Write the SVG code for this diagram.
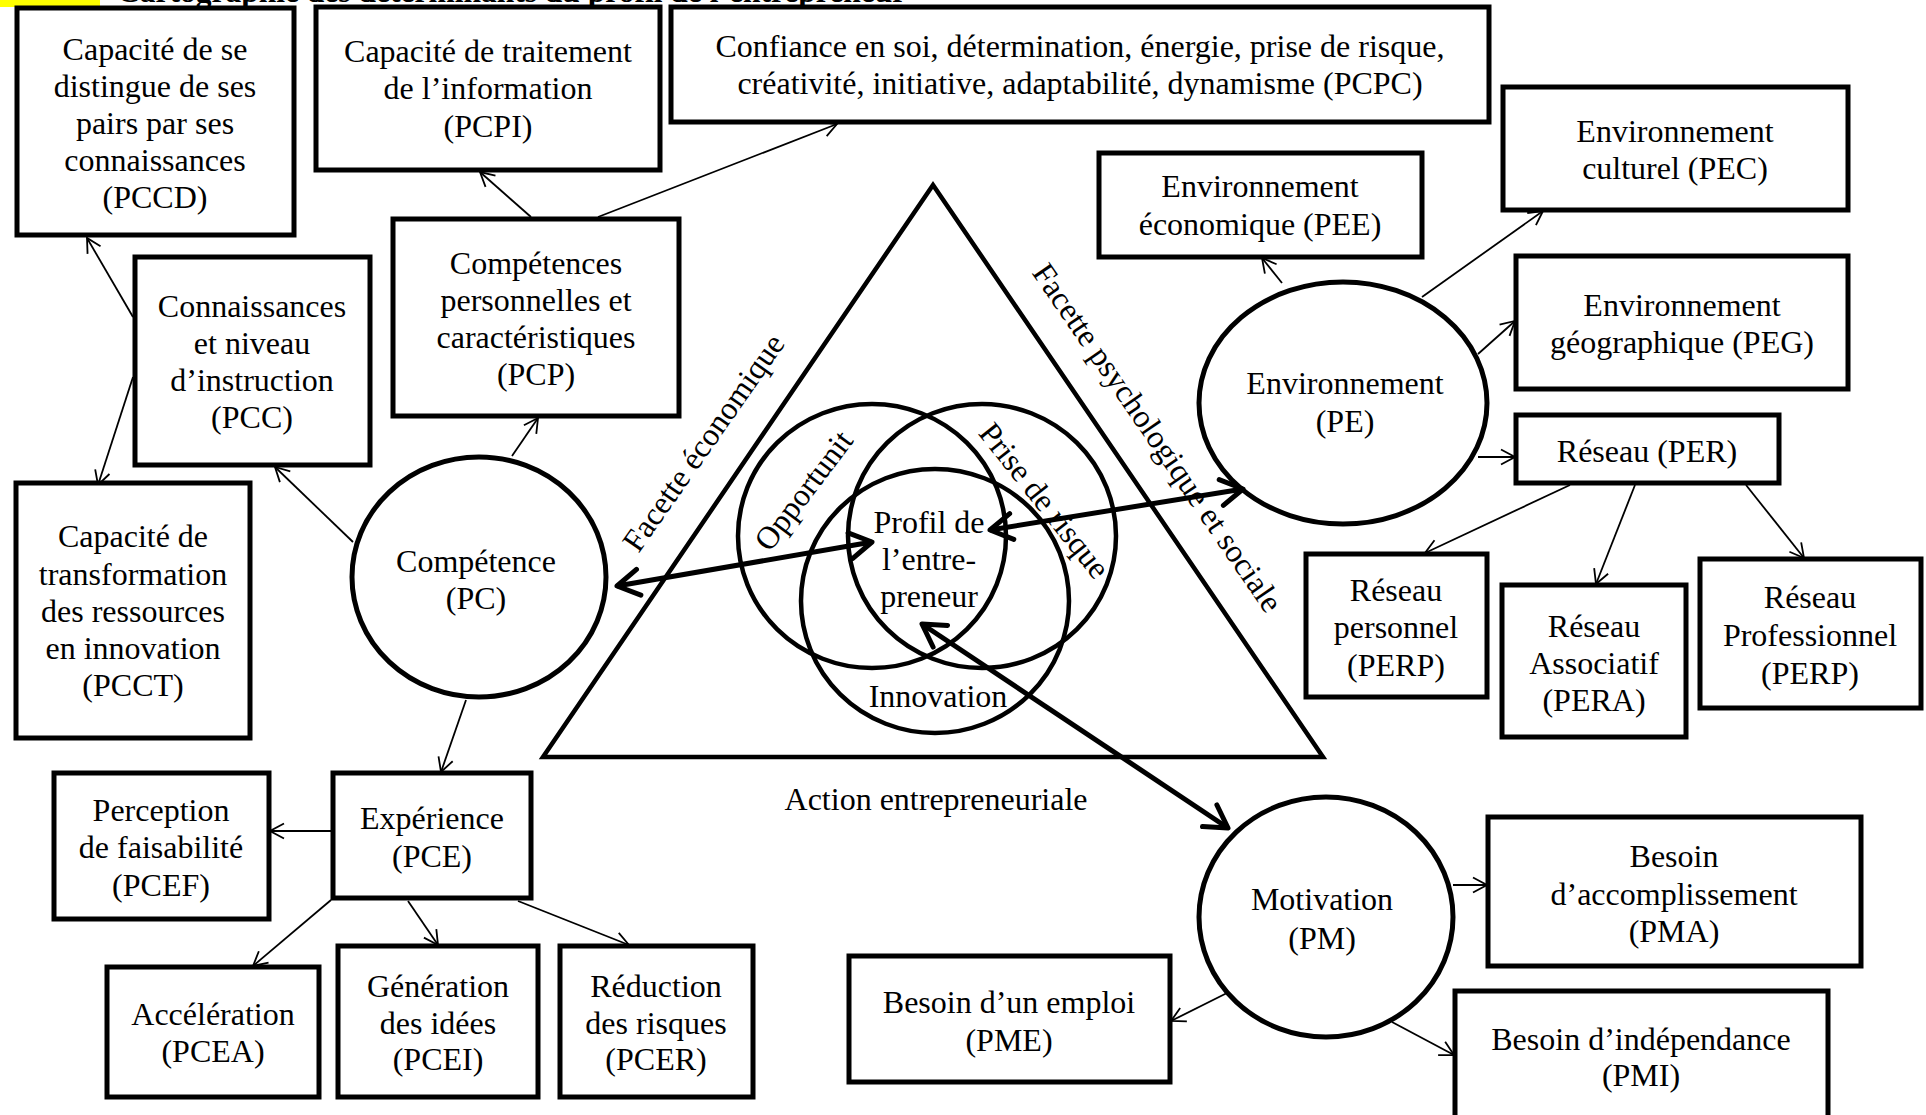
<svg xmlns="http://www.w3.org/2000/svg" width="1926" height="1115" viewBox="0 0 1926 1115">
<defs>
<style>
.bx{fill:#fff;stroke:#000;stroke-width:5}
.el{fill:none;stroke:#000;stroke-width:5}
.ci{fill:none;stroke:#000;stroke-width:4.5}
.t{font-family:"Liberation Serif","Times New Roman",serif;font-size:32px;fill:#000;text-anchor:middle}
.c{stroke:#000;stroke-width:1.8;fill:none}
.k{stroke:#000;stroke-width:5;fill:none}
</style>
<marker id="a" viewBox="0 0 16 18" refX="15" refY="9" markerWidth="16" markerHeight="18" markerUnits="userSpaceOnUse" orient="auto"><path d="M1,1.5 L15,9 L1,16.5" fill="none" stroke="#000" stroke-width="1.8"/></marker>
<marker id="b" viewBox="0 0 28 32" refX="25" refY="16" markerWidth="28" markerHeight="32" markerUnits="userSpaceOnUse" orient="auto-start-reverse"><path d="M3,3 L25,16 L3,29" fill="none" stroke="#000" stroke-width="5" stroke-linecap="round" stroke-linejoin="round"/></marker>
</defs>
<rect width="1926" height="1115" fill="#fff"/>
<g id="header">
<rect x="0" y="0" width="100" height="7" fill="#ffff00"/>
<text x="117" y="2" style="font-family:'Liberation Serif','Times New Roman',serif;font-size:31.5px;font-weight:bold">Cartographie des déterminants du profil de l’entrepreneur</text>
</g>
<g id="connectors">
<line class="c" x1="133" y1="317" x2="87" y2="238" marker-end="url(#a)"/>
<line class="c" x1="133" y1="377" x2="98" y2="485" marker-end="url(#a)"/>
<line class="c" x1="353" y1="542" x2="275" y2="467" marker-end="url(#a)"/>
<line class="c" x1="512" y1="456" x2="538" y2="418" marker-end="url(#a)"/>
<line class="c" x1="531" y1="217" x2="480" y2="172" marker-end="url(#a)"/>
<line class="c" x1="598" y1="217" x2="837" y2="124" marker-end="url(#a)"/>
<line class="c" x1="466" y1="700" x2="441" y2="772" marker-end="url(#a)"/>
<line class="c" x1="332" y1="831" x2="270" y2="831" marker-end="url(#a)"/>
<line class="c" x1="331" y1="900" x2="253" y2="966" marker-end="url(#a)"/>
<line class="c" x1="408" y1="901" x2="438" y2="945" marker-end="url(#a)"/>
<line class="c" x1="518" y1="901" x2="629" y2="945" marker-end="url(#a)"/>
<line class="c" x1="1282" y1="283" x2="1262" y2="258" marker-end="url(#a)"/>
<line class="c" x1="1422" y1="297" x2="1543" y2="211" marker-end="url(#a)"/>
<line class="c" x1="1478" y1="354" x2="1515" y2="321" marker-end="url(#a)"/>
<line class="c" x1="1478" y1="457" x2="1515" y2="457" marker-end="url(#a)"/>
<line class="c" x1="1570" y1="485" x2="1425" y2="553" marker-end="url(#a)"/>
<line class="c" x1="1635" y1="485" x2="1596" y2="584" marker-end="url(#a)"/>
<line class="c" x1="1746" y1="485" x2="1804" y2="558" marker-end="url(#a)"/>
<line class="c" x1="1453" y1="885" x2="1487" y2="885" marker-end="url(#a)"/>
<line class="c" x1="1229" y1="992" x2="1171" y2="1021" marker-end="url(#a)"/>
<line class="c" x1="1392" y1="1022" x2="1454" y2="1055" marker-end="url(#a)"/>
</g>
<g id="triangle">
<polygon points="933,185 543,757 1323,757" fill="none" stroke="#000" stroke-width="4.5" stroke-linejoin="miter"/>
<text class="t" transform="translate(936,810)">Action entrepreneuriale</text>
<text class="t" transform="translate(704,443) rotate(-55)" y="10">Facette économique</text>
<text class="t" transform="translate(1157,438) rotate(55.5)" y="10">Facette psychologique et sociale</text>
</g>
<g id="profil">
<ellipse class="ci" cx="872" cy="536" rx="134" ry="132"/>
<ellipse class="ci" cx="982" cy="536" rx="134" ry="132"/>
<ellipse class="ci" cx="935" cy="601" rx="134" ry="132"/>
<text class="t" transform="translate(804,491) rotate(-53)" y="10">Opportunit</text>
<text class="t" transform="translate(1044,501) rotate(51.5)" y="10">Prise de risque</text>
<text class="t" x="938" y="707">Innovation</text>
<text class="t" x="929" y="533">Profil de</text>
<text class="t" x="929" y="570">l’entre-</text>
<text class="t" x="929" y="607">preneur</text>
</g>
<g id="thick-connectors">
<line class="k" x1="617" y1="586" x2="872" y2="542" marker-start="url(#b)" marker-end="url(#b)"/>
<line class="k" x1="990" y1="530" x2="1243" y2="489" marker-start="url(#b)" marker-end="url(#b)"/>
<line class="k" x1="922" y1="624" x2="1228" y2="828" marker-start="url(#b)" marker-end="url(#b)"/>
</g>
<g id="PCCD"><rect class="bx" x="17" y="8" width="277" height="227"/>
<text class="t" x="155" y="60">Capacité de se</text><text class="t" x="155" y="97">distingue de ses</text><text class="t" x="155" y="134">pairs par ses</text><text class="t" x="155" y="171">connaissances</text><text class="t" x="155" y="208">(PCCD)</text></g>
<g id="PCPI"><rect class="bx" x="316" y="7" width="344" height="163"/>
<text class="t" x="488" y="62">Capacité de traitement</text><text class="t" x="488" y="99">de l’information</text><text class="t" x="488" y="137">(PCPI)</text></g>
<g id="PCPC"><rect class="bx" x="671" y="7" width="818" height="115"/>
<text class="t" x="1080" y="57">Confiance en soi, détermination, énergie, prise de risque,</text><text class="t" x="1080" y="94">créativité, initiative, adaptabilité, dynamisme (PCPC)</text></g>
<g id="PCC"><rect class="bx" x="135" y="257" width="235" height="208"/>
<text class="t" x="252" y="317">Connaissances</text><text class="t" x="252" y="354">et niveau</text><text class="t" x="252" y="391">d’instruction</text><text class="t" x="252" y="428">(PCC)</text></g>
<g id="PCP"><rect class="bx" x="393" y="219" width="286" height="197"/>
<text class="t" x="536" y="274">Compétences</text><text class="t" x="536" y="311">personnelles et</text><text class="t" x="536" y="348">caractéristiques</text><text class="t" x="536" y="385">(PCP)</text></g>
<g id="PCCT"><rect class="bx" x="16" y="483" width="234" height="255"/>
<text class="t" x="133" y="547">Capacité de</text><text class="t" x="133" y="585">transformation</text><text class="t" x="133" y="622">des ressources</text><text class="t" x="133" y="659">en innovation</text><text class="t" x="133" y="696">(PCCT)</text></g>
<g id="PC"><ellipse class="el" cx="479" cy="577" rx="127" ry="120"/>
<text class="t" x="476" y="572">Compétence</text><text class="t" x="476" y="609">(PC)</text></g>
<g id="PCE"><rect class="bx" x="333" y="773" width="198" height="125"/>
<text class="t" x="432" y="829">Expérience</text><text class="t" x="432" y="867">(PCE)</text></g>
<g id="PCEF"><rect class="bx" x="54" y="773" width="215" height="146"/>
<text class="t" x="161" y="821">Perception</text><text class="t" x="161" y="858">de faisabilité</text><text class="t" x="161" y="896">(PCEF)</text></g>
<g id="PCEA"><rect class="bx" x="107" y="967" width="212" height="130"/>
<text class="t" x="213" y="1025">Accélération</text><text class="t" x="213" y="1062">(PCEA)</text></g>
<g id="PCEI"><rect class="bx" x="338" y="946" width="200" height="151"/>
<text class="t" x="438" y="997">Génération</text><text class="t" x="438" y="1034">des idées</text><text class="t" x="438" y="1070">(PCEI)</text></g>
<g id="PCER"><rect class="bx" x="560" y="946" width="193" height="151"/>
<text class="t" x="656" y="997">Réduction</text><text class="t" x="656" y="1034">des risques</text><text class="t" x="656" y="1070">(PCER)</text></g>
<g id="PE"><ellipse class="el" cx="1343" cy="403" rx="144" ry="121"/>
<text class="t" x="1345" y="394">Environnement</text><text class="t" x="1345" y="432">(PE)</text></g>
<g id="PEE"><rect class="bx" x="1099" y="153" width="323" height="104"/>
<text class="t" x="1260" y="197">Environnement</text><text class="t" x="1260" y="235">économique (PEE)</text></g>
<g id="PEC"><rect class="bx" x="1503" y="87" width="345" height="123"/>
<text class="t" x="1675" y="142">Environnement</text><text class="t" x="1675" y="179">culturel (PEC)</text></g>
<g id="PEG"><rect class="bx" x="1516" y="256" width="332" height="133"/>
<text class="t" x="1682" y="316">Environnement</text><text class="t" x="1682" y="353">géographique (PEG)</text></g>
<g id="PER"><rect class="bx" x="1516" y="415" width="263" height="68"/>
<text class="t" x="1647" y="462">Réseau (PER)</text></g>
<g id="PERP1"><rect class="bx" x="1306" y="554" width="181" height="143"/>
<text class="t" x="1396" y="601">Réseau</text><text class="t" x="1396" y="638">personnel</text><text class="t" x="1396" y="676">(PERP)</text></g>
<g id="PERA"><rect class="bx" x="1502" y="585" width="184" height="152"/>
<text class="t" x="1594" y="637">Réseau</text><text class="t" x="1594" y="674">Associatif</text><text class="t" x="1594" y="711">(PERA)</text></g>
<g id="PERP2"><rect class="bx" x="1700" y="559" width="221" height="149"/>
<text class="t" x="1810" y="608">Réseau</text><text class="t" x="1810" y="646">Professionnel</text><text class="t" x="1810" y="684">(PERP)</text></g>
<g id="PM"><ellipse class="el" cx="1326" cy="917" rx="127" ry="120"/>
<text class="t" x="1322" y="910">Motivation</text><text class="t" x="1322" y="949">(PM)</text></g>
<g id="PMA"><rect class="bx" x="1488" y="817" width="373" height="149"/>
<text class="t" x="1674" y="867">Besoin</text><text class="t" x="1674" y="905">d’accomplissement</text><text class="t" x="1674" y="942">(PMA)</text></g>
<g id="PME"><rect class="bx" x="849" y="956" width="321" height="126"/>
<text class="t" x="1009" y="1013">Besoin d’un emploi</text><text class="t" x="1009" y="1051">(PME)</text></g>
<g id="PMI"><rect class="bx" x="1455" y="991" width="373" height="140"/>
<text class="t" x="1641" y="1050">Besoin d’indépendance</text><text class="t" x="1641" y="1086">(PMI)</text></g>
</svg>
